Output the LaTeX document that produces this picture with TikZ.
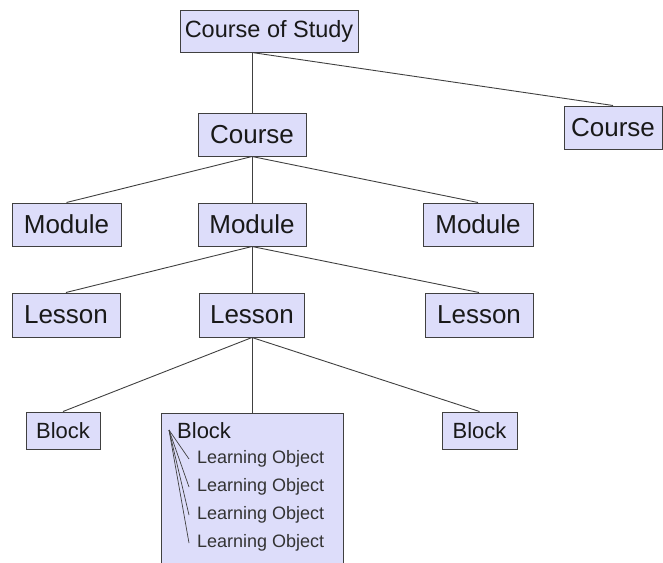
\documentclass[tikz,border=0pt]{standalone}
\usepackage{fontspec}
\setmainfont{Liberation Sans}
\definecolor{boxfill}{RGB}{221,221,250}
\definecolor{boxline}{RGB}{64,64,64}
\begin{document}
\begin{tikzpicture}[x=1pt,y=-1pt,
		box/.style={rectangle,draw=boxline,fill=boxfill,inner sep=0pt,line width=1pt,text=black!90},
		lvl/.style={box,minimum width=108pt,minimum height=43pt,font=\fontsize{26}{28}\selectfont},
		blk/.style={box,minimum width=74pt,minimum height=37pt,font=\fontsize{22}{24}\selectfont},
		lo/.style={anchor=west,inner xsep=8pt,inner ysep=0pt,font=\fontsize{18}{20}\selectfont,text=black!80},
		link/.style={-,draw=boxline,line width=0.9pt}]
		\clip (0,0) rectangle (663,562);
		% top
		\node[box,minimum width=178pt,minimum height=42pt,font=\fontsize{23.5}{25}\selectfont] (cos) at (269,31) {Course of Study};
		\node[lvl] (c) at (252,134.5) {Course};
		\node[lvl,minimum width=98pt] (c2) at (613,127.5) {Course};
		\coordinate (cosb) at (c.north |- cos.south);
		\path (cosb) edge[link] (c.north) edge[link] (c2.north);
		% modules
		\node[lvl,minimum width=109pt] (m1) at (66.5,224.5) {Module};
		\node[lvl] (m2) at (252,224.5) {Module};
		\node[lvl,minimum width=110pt] (m3) at (478,224.5) {Module};
		\path (c.south) edge[link] (m1.north) edge[link] (m2.north) edge[link] (m3.north);
		% lessons
		\node[lvl,minimum height=44pt] (l1) at (66,315) {Lesson};
		\node[lvl,minimum height=44pt,minimum width=105pt] (l2) at (252,315) {Lesson};
		\node[lvl,minimum height=44pt] (l3) at (479,315) {Lesson};
		\path (m2.south) edge[link] (l1.north) edge[link] (l2.north) edge[link] (l3.north);
		% blocks
		\node[blk] (b1) at (63,430.5) {Block};
		\node[box,minimum width=182pt,minimum height=160pt] (b2) at (252,493) {};
		\node[blk,minimum width=75pt] (b3) at (479.5,430.5) {Block};
		\path (l2.south) edge[link] (b1.north) edge[link] (b2.north) edge[link] (b3.north);
		% learning objects
		\node[anchor=west,inner sep=0pt,font=\fontsize{22}{24}\selectfont,text=black!90] (b2t) at (177,431) {Block};
		\coordinate (hub) at (169,430);
		\node[lo] (o1) at (189,459) {Learning Object};
		\node[lo] (o2) at (189,487) {Learning Object};
		\node[lo] (o3) at (189,515) {Learning Object};
		\node[lo] (o4) at (189,543) {Learning Object};
		\path (hub) edge[link,line width=0.7pt] (o1.west) edge[link,line width=0.7pt] (o2.west)
			edge[link,line width=0.7pt] (o3.west) edge[link,line width=0.7pt] (o4.west);
	\end{tikzpicture}
\end{document}
